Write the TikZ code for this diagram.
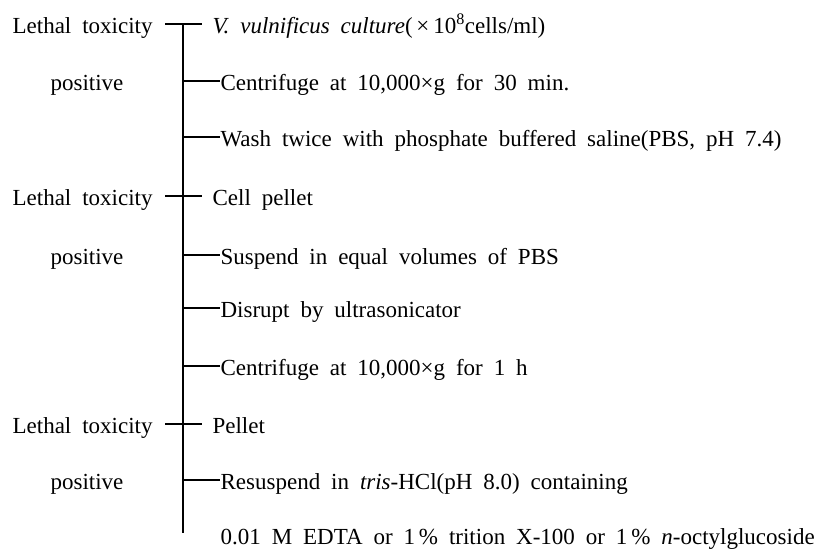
\documentclass[tikz,border=0pt]{standalone}
\usepackage{fontspec}
\setmainfont{Liberation Serif}[WordSpace={1.9}]
\usetikzlibrary{positioning}

\begin{document}
\begin{tikzpicture}[x=1pt,y=-1pt,
    every node/.style={inner sep=0pt,text height=19pt,text depth=0pt,
      font=\fontsize{23}{27}\selectfont},
    lethal/.style={anchor=west},
    posit/.style={anchor=center},
    stage/.style={anchor=west},
    every path/.style={line width=1.2pt}]

    \useasboundingbox (0,0) rectangle (824,549);

    % left labels
    \node[lethal] (l1) at (12,24) {Lethal toxicity};
    \node[posit] (p1) at (87,81) {positive};
    \node[lethal] (l2) at (12,196) {Lethal toxicity};
    \node[posit] (p2) at (87,255) {positive};
    \node[lethal] (l3) at (12,424) {Lethal toxicity};
    \node[posit] (p3) at (87,480) {positive};

    % procedure
    \node[stage] (n1) at (212,24) {\textit{V. vulnificus culture}(\,×\,10\textsuperscript{8}cells/ml)};
    \node[stage] (n2) at (220,81) {Centrifuge at 10,000×g for 30 min.};
    \node[stage] (n3) at (220,137) {Wash twice with phosphate buffered saline(PBS, pH 7.4)};
    \node[stage] (n4) at (212,196) {Cell pellet};
    \node[stage] (n5) at (220,255) {Suspend in equal volumes of PBS};
    \node[stage] (n6) at (220,308) {Disrupt by ultrasonicator};
    \node[stage] (n7) at (220,366) {Centrifuge at 10,000×g for 1 h};
    \node[stage] (n8) at (212,424) {Pellet};
    \node[stage] (n9) at (220,480) {Resuspend in \textit{tris}-HCl(pH 8.0) containing};
    \node[stage] (n10) at (220,535) {0.01 M EDTA or 1\,\% trition X-100 or 1\,\% \textit{n}-octylglucoside};

    \coordinate (top) at (183,24);
    \coordinate (bot) at (183,533);
    \draw (top) -- (bot);

    \path[shorten <=12pt,shorten >=10pt]
    (l1.east) edge (n1.west)
    (l2.east) edge (n4.west)
    (l3.east) edge (n8.west)
    ;

    \draw (top |- n2.west) -- (n2.west);
    \draw (top |- n3.west) -- (n3.west);
    \draw (top |- n5.west) -- (n5.west);
    \draw (top |- n6.west) -- (n6.west);
    \draw (top |- n7.west) -- (n7.west);
    \draw (top |- n9.west) -- (n9.west);
  \end{tikzpicture}
\end{document}
